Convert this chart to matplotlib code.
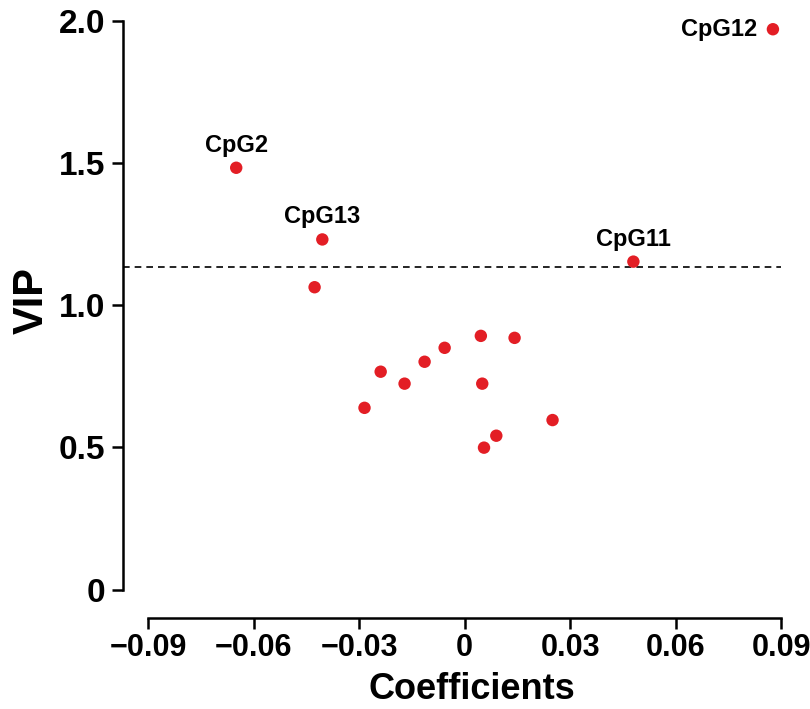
import matplotlib
matplotlib.use("Agg")
import matplotlib.pyplot as plt

# values
coef = [0.0877, -0.0650, -0.0405, 0.0480, -0.0427,
        -0.0239, -0.0285, -0.0171, -0.0114, -0.0057,
        0.0046, 0.0142, 0.0050, 0.0250, 0.0090, 0.0055]
vip = [1.970, 1.483, 1.231, 1.153, 1.063,
       0.766, 0.639, 0.724, 0.801, 0.850,
       0.892, 0.885, 0.724, 0.596, 0.541, 0.499]
names = ["CpG12", "CpG2", "CpG13", "CpG11"] + [""] * 12
vip_cut = 1.135

xticks = [-0.09, -0.06, -0.03, 0, 0.03, 0.06, 0.09]
xtick_labels = ["\u22120.09", "\u22120.06", "\u22120.03", "0", "0.03", "0.06", "0.09"]
yticks = [0, 0.5, 1.0, 1.5, 2.0]
ytick_labels = ["0", "0.5", "1.0", "1.5", "2.0"]

###############################################################################

plt.rcParams['font.family'] = ['Liberation Sans', 'DejaVu Sans']
plt.rcParams['font.weight'] = 'bold'

fig = plt.figure(figsize=(8.1, 7.09), dpi=100)
ax = fig.add_axes([0.1519, 0.1283, 0.8123, 0.8425])

ax.set_xlim(-0.0972, 0.09)
ax.set_ylim(-0.1, 2.0)

ax.axhline(vip_cut, color="black", lw=1.2, ls=(0, (4, 3)))
ax.scatter(coef, vip, s=80, color="#e31e25", edgecolors="none", zorder=3, clip_on=False)

for x, y, n in zip(coef, vip, names):
    if not n:
        continue
    if n == "CpG12":
        ax.annotate(n, (x, y), xytext=(-11, 0), textcoords="offset points",
                    ha="right", va="center", fontsize=17, fontweight="bold")
    else:
        ax.annotate(n, (x, y), xytext=(0, 11.5), textcoords="offset points",
                    ha="center", va="baseline", fontsize=17, fontweight="bold")

for side in ("top", "right"):
    ax.spines[side].set_visible(False)
for side in ("left", "bottom"):
    ax.spines[side].set_linewidth(1.8)
ax.spines["left"].set_bounds(0, 2.0)
ax.spines["bottom"].set_bounds(-0.09, 0.09)

ax.set_xticks(xticks)
ax.set_xticklabels(xtick_labels, fontsize=22, fontweight="bold")
ax.set_yticks(yticks)
ax.set_yticklabels(ytick_labels, fontsize=24, fontweight="bold")
ax.tick_params(length=8, width=1.8)
ax.tick_params(axis="x", pad=3)
ax.tick_params(axis="y", pad=5)

ax.set_xlabel("Coefficients", fontsize=26, fontweight="bold")
ax.xaxis.set_label_coords(0.53, -0.09)
ax.set_ylabel("VIP", fontsize=30, fontweight="bold")
ax.yaxis.set_label_coords(-0.108, 0.531)

fig.savefig("out.png", dpi=100)
